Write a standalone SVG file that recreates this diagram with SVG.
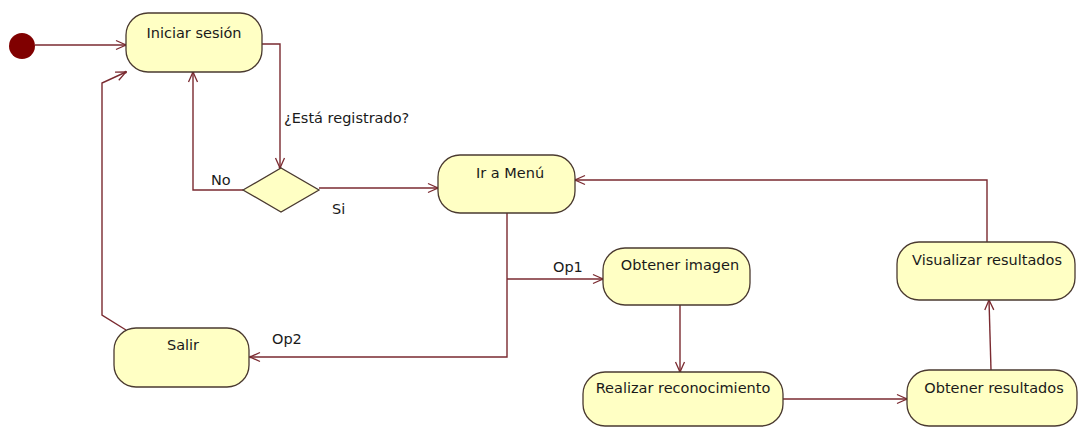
<svg xmlns="http://www.w3.org/2000/svg" width="1078" height="428" viewBox="0 0 1078 428">
  <style>
    .node { fill: #ffffc4; stroke: #4a3a30; stroke-width: 1.3; }
    .edge { fill: none; stroke: #7a2a30; stroke-width: 1.4; }
    .lbl { font-family: "DejaVu Sans", sans-serif; font-size: 14.5px; fill: #1a1a1a; }
    .mid { text-anchor: middle; }
  </style>
  <defs>
    <marker id="arr" viewBox="0 0 12 12" refX="11" refY="6" markerWidth="12" markerHeight="12" markerUnits="userSpaceOnUse" orient="auto">
      <path d="M1,1.5 L11,6 L1,10.5" fill="none" stroke="#7a2a30" stroke-width="1.3"/>
      <circle cx="10.5" cy="6" r="1.3" fill="#7a2a30"/>
    </marker>
  </defs>
  <rect width="1078" height="428" fill="#ffffff"/>

  <g id="connectors">
    <path class="edge" d="M35,45 L126,45" marker-end="url(#arr)"/>
    <path class="edge" d="M262,44 L280,44 L280,168" marker-end="url(#arr)"/>
    <path class="edge" d="M243,190 L193,190 L193,72" marker-end="url(#arr)"/>
    <path class="edge" d="M319,188 L438,188" marker-end="url(#arr)"/>
    <path class="edge" d="M987,242 L987,180 L575,180" marker-end="url(#arr)"/>
    <path class="edge" d="M507,213 L507,357 L250,357" marker-end="url(#arr)"/>
    <path class="edge" d="M507,279 L603,279" marker-end="url(#arr)"/>
    <path class="edge" d="M680,305 L680,372" marker-end="url(#arr)"/>
    <path class="edge" d="M783,399 L907,399" marker-end="url(#arr)"/>
    <path class="edge" d="M991,370 L989,300" marker-end="url(#arr)"/>
    <path class="edge" d="M126,330 L102,315 L102,83 L126,72" marker-end="url(#arr)"/>
    <text class="lbl" x="284" y="123">¿Está registrado?</text>
    <text class="lbl" x="211" y="185">No</text>
    <text class="lbl" x="332" y="214">Si</text>
    <text class="lbl" x="553" y="272">Op1</text>
    <text class="lbl" x="272" y="344">Op2</text>
  </g>

  <g id="start">
    <circle cx="22" cy="46" r="13" fill="#800000"/>
  </g>
  <g id="iniciar">
    <rect class="node" x="126" y="13" width="136" height="59" rx="22" ry="22"/>
    <text class="lbl mid" x="194" y="38">Iniciar sesión</text>
  </g>
  <g id="decision">
    <polygon class="node" points="243,190 281,168 319,190 281,212"/>
  </g>
  <g id="menu">
    <rect class="node" x="438" y="155" width="137" height="58" rx="22" ry="22"/>
    <text class="lbl mid" x="510" y="178">Ir a Menú</text>
  </g>
  <g id="obtener-imagen">
    <rect class="node" x="603" y="248" width="147" height="57" rx="22" ry="22"/>
    <text class="lbl mid" x="680" y="270">Obtener imagen</text>
  </g>
  <g id="realizar">
    <rect class="node" x="583" y="372" width="200" height="54" rx="22" ry="22"/>
    <text class="lbl mid" x="683" y="393">Realizar reconocimiento</text>
  </g>
  <g id="obtener-resultados">
    <rect class="node" x="907" y="370" width="170" height="56" rx="22" ry="22"/>
    <text class="lbl mid" x="994" y="393">Obtener resultados</text>
  </g>
  <g id="visualizar">
    <rect class="node" x="897" y="242" width="178" height="58" rx="22" ry="22"/>
    <text class="lbl mid" x="987" y="265">Visualizar resultados</text>
  </g>
  <g id="salir">
    <rect class="node" x="114" y="328" width="135" height="59" rx="22" ry="22"/>
    <text class="lbl mid" x="183" y="350">Salir</text>
  </g>
</svg>
